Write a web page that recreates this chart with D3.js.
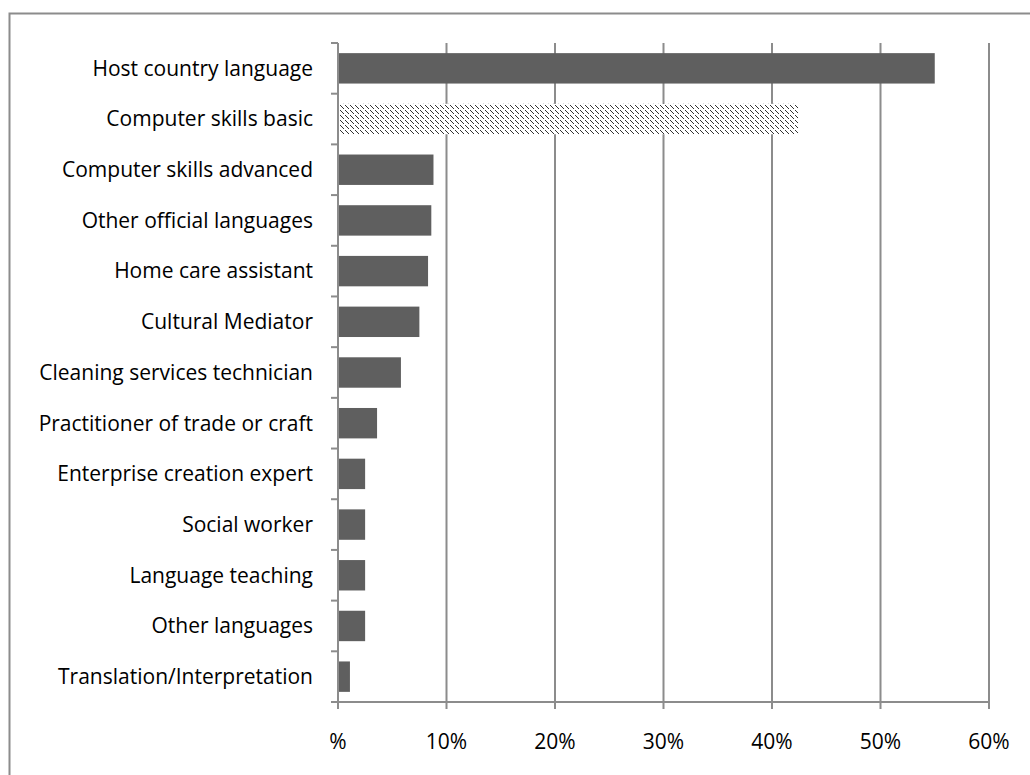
<!DOCTYPE html>
<html>
<head>
<meta charset="utf-8">
<script src="https://cdn.jsdelivr.net/npm/d3@7"></script>
<style>
  html, body { margin: 0; padding: 0; background: #fff; }
  svg { display: block; }
  text { font-family: "Open Sans", sans-serif; fill: #000; }
</style>
</head>
<body>
<svg id="chart" width="1030" height="775"></svg>
<script>
// Training needs (share of respondents, %)
const categories = [
  "Host country language",
  "Computer skills basic",
  "Computer skills advanced",
  "Other official languages",
  "Home care assistant",
  "Cultural Mediator",
  "Cleaning services technician",
  "Practitioner of trade or craft",
  "Enterprise creation expert",
  "Social worker",
  "Language teaching",
  "Other languages",
  "Translation/Interpretation"
];
const values = [55.0, 42.4, 8.8, 8.6, 8.3, 7.5, 5.8, 3.6, 2.5, 2.5, 2.5, 2.5, 1.1];
const hatched = ["Computer skills basic"];
const xTicks = [0, 10, 20, 30, 40, 50, 60];
const xTickLabels = ["%", "10%", "20%", "30%", "40%", "50%", "60%"];

const svg = d3.select("#chart");
const m = { left: 338, right: 989, top: 43, bottom: 702 };

// Chart frame (continues past the right and bottom edges)
svg.append("rect")
  .attr("x", 9.5).attr("y", 13.5)
  .attr("width", 1100).attr("height", 900)
  .attr("fill", "none").attr("stroke", "#8c8c8c").attr("stroke-width", 2);

// Dashed downward-diagonal hatch
const pat = svg.append("defs").append("pattern")
  .attr("id", "hatch")
  .attr("patternUnits", "userSpaceOnUse")
  .attr("width", 5).attr("height", 5);
pat.append("rect").attr("width", 5).attr("height", 5).attr("fill", "#fff");
[0, 1, 2, 3].forEach(k => {
  pat.append("rect").attr("x", k).attr("y", k).attr("width", 1).attr("height", 1).attr("fill", "#333");
});

const x = d3.scaleLinear().domain([0, 60]).range([m.left, m.right]);
const y = d3.scaleBand().domain(categories).range([m.top, m.bottom]).paddingInner(0.4).paddingOuter(0.2);
const yEdges = d3.scaleLinear().domain([0, categories.length]).range([m.top, m.bottom]);

// Vertical gridlines
svg.append("g").selectAll("line")
  .data(xTicks.slice(1))
  .join("line")
  .attr("x1", d => x(d)).attr("x2", d => x(d))
  .attr("y1", m.top).attr("y2", m.bottom + 7)
  .attr("stroke", "#8c8c8c").attr("stroke-width", 2);

// Bars
svg.append("g").selectAll("rect")
  .data(categories.map((c, i) => ({ c, v: values[i] })))
  .join("rect")
  .attr("x", x(0) + 1)
  .attr("y", d => y(d.c))
  .attr("width", d => x(d.v) - x(0) - 1)
  .attr("height", y.bandwidth())
  .attr("fill", d => hatched.includes(d.c) ? "url(#hatch)" : "#5f5f5f");

// Category axis with ticks at band edges
svg.append("line")
  .attr("x1", m.left).attr("x2", m.left)
  .attr("y1", m.top).attr("y2", m.bottom + 7)
  .attr("stroke", "#8c8c8c").attr("stroke-width", 2);
svg.append("g").selectAll("line")
  .data(d3.range(categories.length))
  .join("line")
  .attr("x1", m.left - 7).attr("x2", m.left)
  .attr("y1", d => yEdges(d)).attr("y2", d => yEdges(d))
  .attr("stroke", "#8c8c8c").attr("stroke-width", 2);
svg.append("g").selectAll("text")
  .data(categories)
  .join("text")
  .attr("x", m.left - 25)
  .attr("y", d => y(d) + y.bandwidth() / 2)
  .attr("dy", "0.35em")
  .attr("text-anchor", "end")
  .attr("font-size", 21)
  .text(d => d);

// Value axis
svg.append("line")
  .attr("x1", m.left - 7).attr("x2", m.right)
  .attr("y1", m.bottom).attr("y2", m.bottom)
  .attr("stroke", "#8c8c8c").attr("stroke-width", 2);
svg.append("g").selectAll("text")
  .data(xTicks)
  .join("text")
  .attr("x", d => x(d))
  .attr("y", 742)
  .attr("dy", "0.35em")
  .attr("text-anchor", "middle")
  .attr("font-size", 21)
  .text((d, i) => xTickLabels[i]);
</script>
</body>
</html>
